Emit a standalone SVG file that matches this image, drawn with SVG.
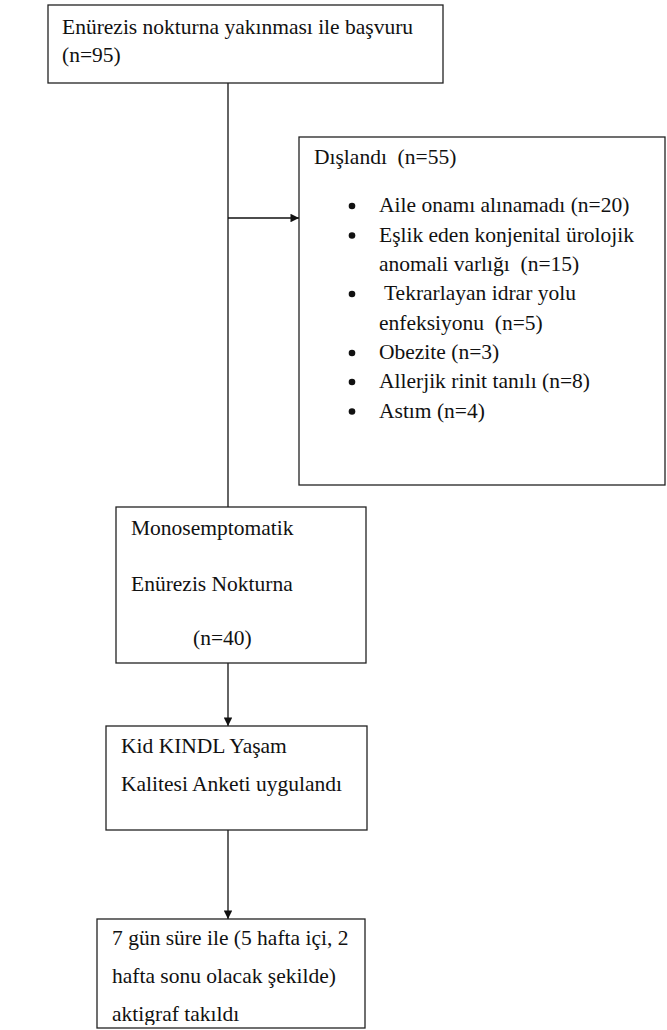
<svg xmlns="http://www.w3.org/2000/svg" width="667" height="1030" viewBox="0 0 667 1030">
<style>
.box{fill:#fff;stroke:#222;stroke-width:1.3}
.t{font-family:"Liberation Serif","Times New Roman",serif;font-size:21.5px;fill:#111;white-space:pre}
.c{fill:none;stroke:#111;stroke-width:1.3}
.b{fill:#111}
</style>
<defs>
<marker id="ah" viewBox="0 0 10 10" refX="10" refY="5" markerWidth="9" markerHeight="8.5" markerUnits="userSpaceOnUse" orient="auto">
<path d="M0,0 L10,5 L0,10 z" fill="#111"/>
</marker>
<clipPath id="clip5"><rect x="97" y="919" width="268" height="106"/></clipPath>
</defs>
<rect width="667" height="1030" fill="#fff"/>
<g id="connectors">
<line class="c" x1="228" y1="83" x2="228" y2="507"/>
<line class="c" x1="228" y1="218" x2="299" y2="218" marker-end="url(#ah)"/>
<line class="c" x1="228" y1="663" x2="228" y2="726" marker-end="url(#ah)"/>
<line class="c" x1="228" y1="830" x2="228" y2="919" marker-end="url(#ah)"/>
</g>
<g id="n1">
<rect class="box" x="48" y="5" width="395" height="78"/>
<text class="t" x="62" y="34">Enürezis nokturna yakınması ile başvuru</text>
<text class="t" x="62" y="62">(n=95)</text>
</g>
<g id="n2">
<rect class="box" x="299" y="137" width="366" height="348"/>
<text class="t" x="314" y="164">Dışlandı  (n=55)</text>
<circle class="b" cx="352" cy="206" r="3.3"/>
<text class="t" x="379" y="212">Aile onamı alınamadı (n=20)</text>
<circle class="b" cx="352" cy="235.5" r="3.3"/>
<text class="t" x="379" y="241.5">Eşlik eden konjenital ürolojik</text>
<text class="t" x="379" y="271">anomali varlığı  (n=15)</text>
<circle class="b" cx="352" cy="294" r="3.3"/>
<text class="t" x="379" y="300"> Tekrarlayan idrar yolu</text>
<text class="t" x="379" y="329.5">enfeksiyonu  (n=5)</text>
<circle class="b" cx="352" cy="353" r="3.3"/>
<text class="t" x="379" y="359">Obezite (n=3)</text>
<circle class="b" cx="352" cy="382" r="3.3"/>
<text class="t" x="379" y="388">Allerjik rinit tanılı (n=8)</text>
<circle class="b" cx="352" cy="411.5" r="3.3"/>
<text class="t" x="379" y="417.5">Astım (n=4)</text>
</g>
<g id="n3">
<rect class="box" x="116" y="507" width="250" height="156"/>
<text class="t" x="131" y="535">Monosemptomatik</text>
<text class="t" x="131" y="591">Enürezis Nokturna</text>
<text class="t" x="193" y="645">(n=40)</text>
</g>
<g id="n4">
<rect class="box" x="106" y="726" width="261" height="104"/>
<text class="t" x="121" y="753">Kid KINDL Yaşam</text>
<text class="t" x="121" y="791">Kalitesi Anketi uygulandı</text>
</g>
<g id="n5">
<rect class="box" x="97" y="919" width="268" height="109"/>
<g clip-path="url(#clip5)">
<text class="t" x="112" y="945">7 gün süre ile (5 hafta içi, 2</text>
<text class="t" x="112" y="983">hafta sonu olacak şekilde)</text>
<text class="t" x="112" y="1021">aktigraf takıldı</text>
</g>
</g>
</svg>
